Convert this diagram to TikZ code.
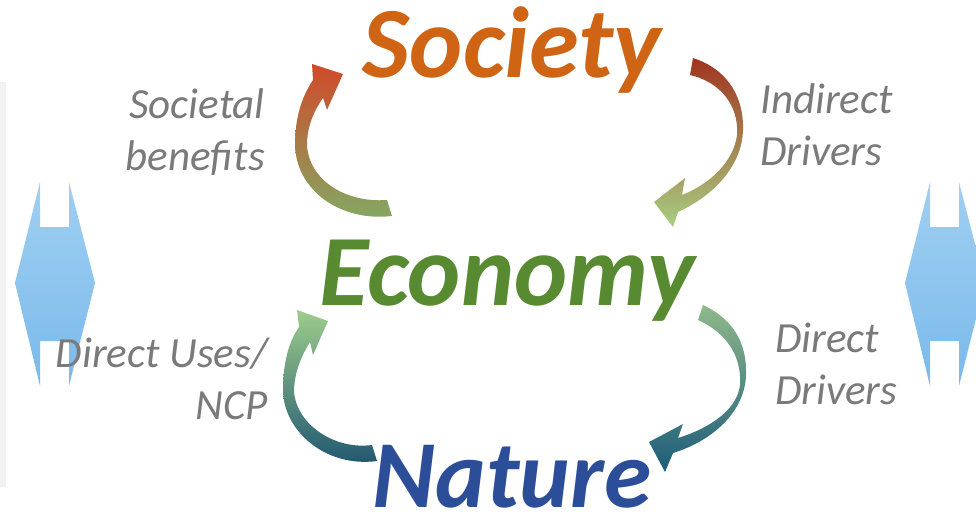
\documentclass[tikz,border=0pt]{standalone}
\usepackage{fontspec}
\setmainfont{Carlito}
\definecolor{panelgray}{RGB}{242,242,242}
\definecolor{labelgray}{RGB}{122,122,122}
\definecolor{societyorange}{RGB}{206,100,20}
\definecolor{economygreen}{RGB}{88,138,50}
\definecolor{natureblue}{RGB}{44,78,152}
\definecolor{bluetop}{RGB}{160,207,242}
\definecolor{bluebottom}{RGB}{122,186,234}
\definecolor{redhead}{RGB}{208,74,42}
\definecolor{greentail}{RGB}{130,170,100}
\definecolor{darkred}{RGB}{160,52,31}
\definecolor{lightgreen}{RGB}{168,206,130}
\definecolor{palegreen}{RGB}{158,205,140}
\definecolor{darkteal}{RGB}{30,84,112}
\definecolor{sagegreen}{RGB}{143,184,138}
\definecolor{deepteal}{RGB}{28,92,122}
\begin{document}
\begin{tikzpicture}[x=1pt,y=-1pt]
    \tikzstyle{every node}+=[inner sep=0pt]
    \tikzstyle{bigword}=[font=\fontsize{101}{104}\selectfont\bfseries\itshape]
    \tikzstyle{sidetext}=[text=labelgray, font=\fontsize{43}{52}\selectfont\itshape]
    \tikzstyle{bluearrow}=[top color=bluetop, bottom color=bluebottom]
    \useasboundingbox (0,0) rectangle (976,532);
    \clip (0,0) rectangle (976,532);
    \fill [panelgray] (0,82) rectangle (6,487);
    \shade [bluearrow] (15,283) -- (40,182) -- (40,227) -- (69,227) -- (69,182) -- (95,283) -- (69,386) -- (69,341) -- (40,341) -- (40,386) -- cycle;
    \shade [bluearrow] (905,283) -- (930,182) -- (930,227) -- (959,227) -- (959,182) -- (985,283) -- (959,386) -- (959,341) -- (930,341) -- (930,386) -- cycle;
    \shade [top color=redhead, bottom color=greentail] (392,216) .. controls (340,222) and (296,190) .. (295,145) .. controls (295,115) and (303,95) .. (313,80) -- (312,64) -- (343,74) -- (327,110) -- (323,98) .. controls (313,112) and (307,128) .. (307,145) .. controls (309,180) and (345,203) .. (387,200) -- cycle;
    \shade [top color=darkred, bottom color=lightgreen] (693,58) .. controls (730,70) and (744,100) .. (743,130) .. controls (742,165) and (715,195) .. (678,212) -- (673,227) -- (654,202) -- (685,178) -- (682,195) .. controls (712,183) and (734,160) .. (737,135) .. controls (739,105) and (720,82) .. (690,75) -- cycle;
    \shade [top color=palegreen, bottom color=darkteal] (377,461) .. controls (325,468) and (283,430) .. (283,390) .. controls (283,360) and (290,340) .. (299,327) -- (297,310) -- (328,321) -- (313,355) -- (310,342) .. controls (300,358) and (294,375) .. (294,392) .. controls (297,425) and (335,450) .. (372,445) -- cycle;
    \shade [top color=sagegreen, bottom color=deepteal] (703,305) .. controls (735,320) and (747,345) .. (746,375) .. controls (745,410) and (715,440) .. (673,453) -- (665,472) -- (649,442) -- (683,424) -- (678,438) .. controls (710,428) and (737,410) .. (740,385) .. controls (742,355) and (725,332) .. (698,320) -- cycle;
    \node [bigword, text=societyorange] (society) at (512,50) {Society};
    \node [bigword, text=economygreen] (economy) at (507,281) {Economy};
    \node [bigword, font=\fontsize{96}{100}\selectfont\bfseries\itshape, text=natureblue] (nature) at (512,477) {Nature};
    \node [sidetext, align=right, anchor=east] (benefits) at (265,132) {Societal\\benefits};
    \node [sidetext, align=left, anchor=west] (indirect) at (760,125) {Indirect\\Drivers};
    \node [sidetext, align=right, anchor=east] (uses) at (268,379) {Direct Uses/\\NCP};
    \node [sidetext, align=left, anchor=west] (direct) at (775,364) {Direct\\Drivers};
\end{tikzpicture}
\end{document}
